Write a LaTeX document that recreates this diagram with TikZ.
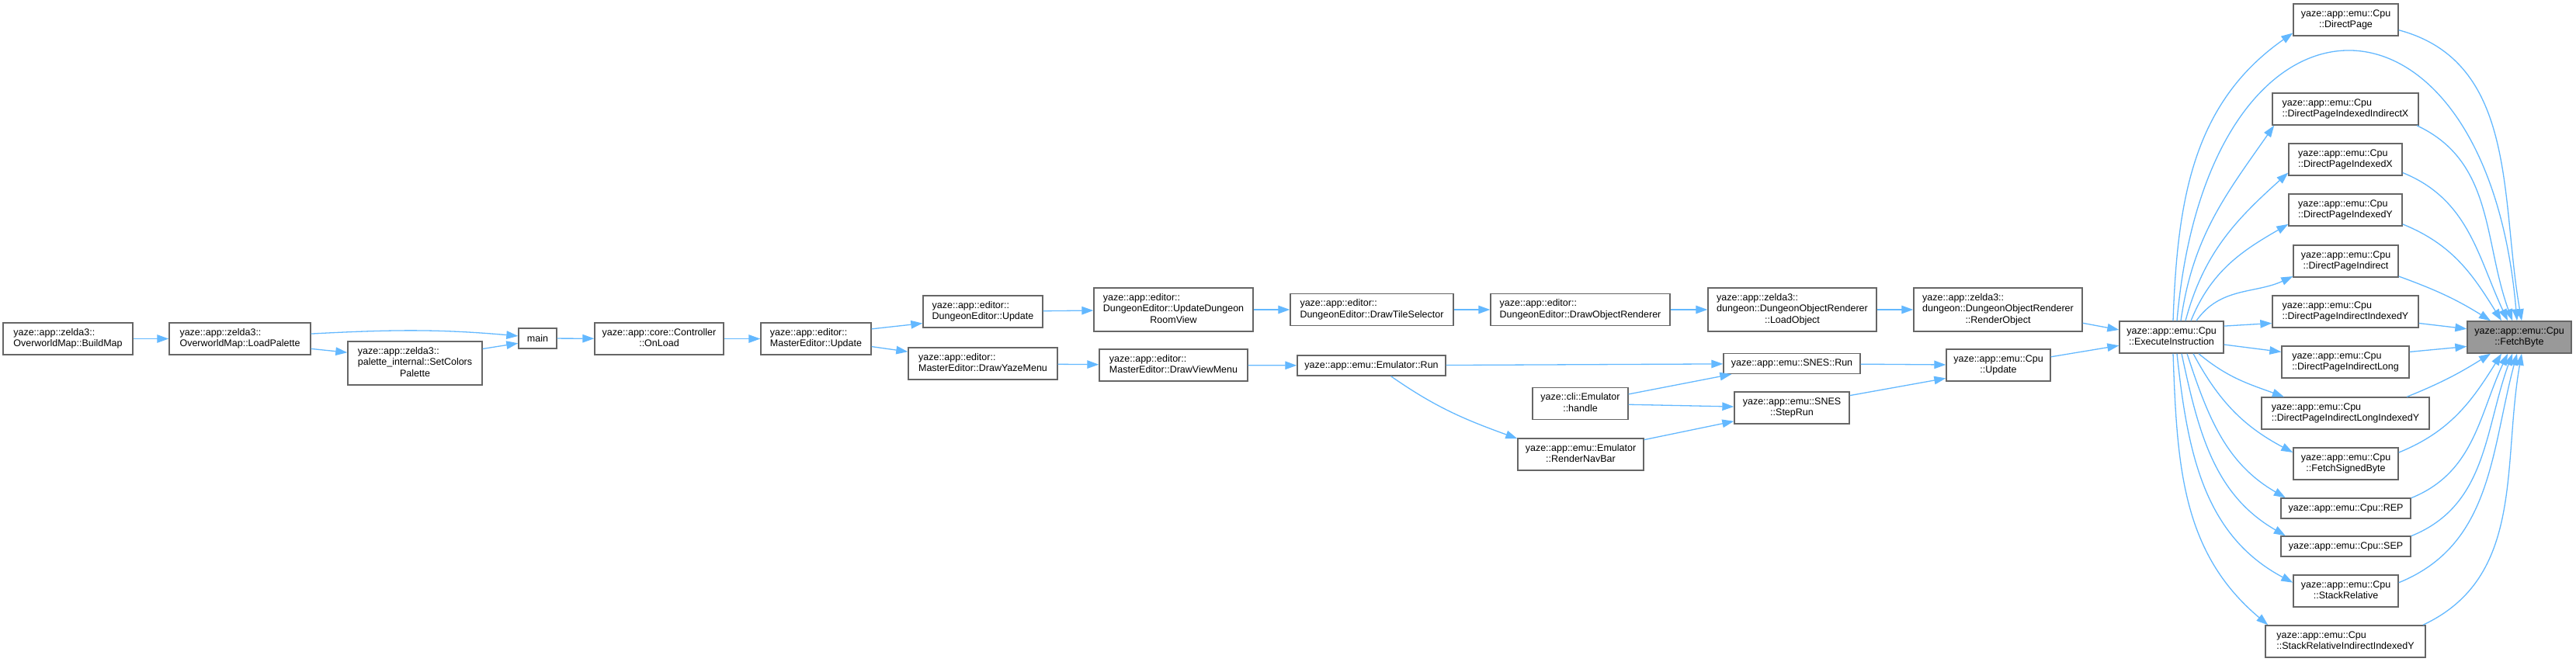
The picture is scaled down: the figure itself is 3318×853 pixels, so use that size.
\documentclass[tikz,border=0pt]{standalone}
\usepackage{fontspec}
\newfontfamily\dotfont{Liberation Sans}
\usetikzlibrary{arrows.meta}
\definecolor{callblue}{HTML}{63B8FF}
\definecolor{fnborder}{HTML}{666666}
\definecolor{fnfill}{HTML}{999999}
% rotulo: linhas de cima alinhadas a esquerda, ultima centrada
\newcommand{\fnlabel}[2]{\begin{tabular}{@{}l@{}}#1\\\multicolumn{1}{@{}c@{}}{#2}\end{tabular}}

\begin{document}
\begin{tikzpicture}[x=1pt, y=1pt,
    fn/.style={draw=fnborder, fill=white, line width=1.4pt, inner xsep=4pt, inner ysep=2pt,
        font=\dotfont\fontsize{12.5}{14.3}\selectfont},
    fnroot/.style={fn, fill=fnfill},
    sz/.style 2 args={minimum width=#1pt, minimum height=#2pt},
    call/.style={callblue, line width=1.3pt, -{Triangle[length=15pt,width=10.5pt]}}]

    \useasboundingbox (0,0) rectangle (3318,-853);

    % 1. Cadeia da esquerda (main e editores)
    \node[fn, sz={167}{41}] (buildmap) at (87.5,-436.5) {\fnlabel{yaze::app::zelda3::}{OverworldMap::BuildMap}};
    \node[fn, sz={182}{41}] (loadpal) at (309,-436.5) {\fnlabel{yaze::app::zelda3::}{OverworldMap::LoadPalette}};
    \node[fn, sz={173}{56}] (setcol) at (534.5,-468) {\fnlabel{yaze::app::zelda3::\\palette\_internal::SetColors}{Palette}};
    \node[fn, sz={49}{26}] (main) at (692.5,-436) {main};
    \node[fn, sz={166}{41}] (onload) at (849,-436.5) {\fnlabel{yaze::app::core::Controller}{::OnLoad}};
    \node[fn, sz={142}{41}] (meupdate) at (1051,-436.5) {\fnlabel{yaze::app::editor::}{MasterEditor::Update}};
    \node[fn, sz={154}{41}] (deupdate) at (1266,-401.5) {\fnlabel{yaze::app::editor::}{DungeonEditor::Update}};
    \node[fn, sz={192}{41}] (yazemenu) at (1266,-468.5) {\fnlabel{yaze::app::editor::}{MasterEditor::DrawYazeMenu}};
    \node[fn, sz={205}{56}] (roomview) at (1511.5,-399) {\fnlabel{yaze::app::editor::\\DungeonEditor::UpdateDungeon}{RoomView}};
    \node[fn, sz={191}{41}] (viewmenu) at (1511.5,-470.5) {\fnlabel{yaze::app::editor::}{MasterEditor::DrawViewMenu}};
    \node[fn, sz={210}{41}] (tilesel) at (1767,-399) {\fnlabel{yaze::app::editor::}{DungeonEditor::DrawTileSelector}};
    \node[fn, sz={191}{26}] (emurun) at (1766.5,-471) {yaze::app::emu::Emulator::Run};
    \node[fn, sz={231}{41}] (objrend) at (2035.5,-399) {\fnlabel{yaze::app::editor::}{DungeonEditor::DrawObjectRenderer}};
    \node[fn, sz={123}{41}] (handle) at (2035.5,-520) {\fnlabel{yaze::cli::Emulator}{::handle}};
    \node[fn, sz={162}{41}] (navbar) at (2036,-585.5) {\fnlabel{yaze::app::emu::Emulator}{::RenderNavBar}};
    \node[fn, sz={217}{56}] (loadobj) at (2308.5,-399) {\fnlabel{yaze::app::zelda3::\\dungeon::DungeonObjectRenderer}{::LoadObject}};
    \node[fn, sz={176}{26}] (snesrun) at (2308,-468.5) {yaze::app::emu::SNES::Run};
    \node[fn, sz={148}{41}] (steprun) at (2308,-525.5) {\fnlabel{yaze::app::emu::SNES}{::StepRun}};
    \node[fn, sz={217}{56}] (renderobj) at (2573.5,-399) {\fnlabel{yaze::app::zelda3::\\dungeon::DungeonObjectRenderer}{::RenderObject}};
    \node[fn, sz={134}{41}] (cpuupdate) at (2574,-470.5) {\fnlabel{yaze::app::emu::Cpu}{::Update}};
    \node[fn, sz={134}{41}] (exec) at (2797,-434.5) {\fnlabel{yaze::app::emu::Cpu}{::ExecuteInstruction}};

    % 2. Coluna dos modos de enderecamento
    \node[fn, sz={135}{41}] (dp) at (3021.5,-25.5) {\fnlabel{yaze::app::emu::Cpu}{::DirectPage}};
    \node[fn, sz={188}{41}] (dpiix) at (3021,-140.5) {\fnlabel{yaze::app::emu::Cpu}{::DirectPageIndexedIndirectX}};
    \node[fn, sz={146}{41}] (dpix) at (3021,-205.5) {\fnlabel{yaze::app::emu::Cpu}{::DirectPageIndexedX}};
    \node[fn, sz={146}{41}] (dpiy) at (3021,-270.5) {\fnlabel{yaze::app::emu::Cpu}{::DirectPageIndexedY}};
    \node[fn, sz={135}{41}] (dpind) at (3021.5,-336.5) {\fnlabel{yaze::app::emu::Cpu}{::DirectPageIndirect}};
    \node[fn, sz={188}{41}] (dpindy) at (3021,-401.5) {\fnlabel{yaze::app::emu::Cpu}{::DirectPageIndirectIndexedY}};
    \node[fn, sz={164}{41}] (dpindl) at (3021,-466.5) {\fnlabel{yaze::app::emu::Cpu}{::DirectPageIndirectLong}};
    \node[fn, sz={216}{41}] (dpindly) at (3021,-532.5) {\fnlabel{yaze::app::emu::Cpu}{::DirectPageIndirectLongIndexedY}};
    \node[fn, sz={135}{41}] (fsb) at (3021.5,-597.5) {\fnlabel{yaze::app::emu::Cpu}{::FetchSignedByte}};
    \node[fn, sz={167}{26}] (rep) at (3021.5,-655) {yaze::app::emu::Cpu::REP};
    \node[fn, sz={167}{26}] (sep) at (3021.5,-704) {yaze::app::emu::Cpu::SEP};
    \node[fn, sz={135}{41}] (sr) at (3021.5,-761.5) {\fnlabel{yaze::app::emu::Cpu}{::StackRelative}};
    \node[fn, sz={206}{41}] (sriiy) at (3021,-826.5) {\fnlabel{yaze::app::emu::Cpu}{::StackRelativeIndirectIndexedY}};

    \node[fnroot, sz={134}{41}] (fetch) at (3245,-434.5) {\fnlabel{yaze::app::emu::Cpu}{::FetchByte}};

    % 3. Chamadas da cadeia da esquerda
    \draw[call] (buildmap) -- (loadpal);
    \draw[call] (loadpal.4) to[out=3, in=175] (main.173);
    \draw[call] (loadpal.352) -- (setcol.171);
    \draw[call] (setcol.12) -- (main.194);
    \draw[call] (main) -- (onload);
    \draw[call] (onload) -- (meupdate);
    \draw[call] (meupdate.10) -- (deupdate.191);
    \draw[call] (meupdate.352) -- (yazemenu.171);
    \draw[call] (deupdate) -- (roomview);
    \draw[call] (yazemenu) -- (viewmenu);
    \draw[call] (roomview) -- (tilesel);
    \draw[call] (viewmenu) -- (emurun);
    \draw[call] (tilesel) -- (objrend);
    \draw[call] (objrend) -- (loadobj);
    \draw[call] (loadobj) -- (renderobj);
    \draw[call] (emurun) -- (snesrun);
    \draw[call] ([xshift=25pt]emurun.south) to[out=-35, in=160] (navbar.166);
    \draw[call] (handle.11) -- (snesrun.190);
    \draw[call] (handle) -- (steprun);
    \draw[call] (navbar.13) -- (steprun.193);
    \draw[call] (snesrun) -- (cpuupdate);
    \draw[call] (steprun.12) -- (cpuupdate.194);
    \draw[call] (renderobj.351) -- (exec.172);
    \draw[call] (cpuupdate.9) -- (exec.189);

    % 4. Leque de ExecuteInstruction para a coluna
    \foreach \n/\dx/\o/\i/\a in {dp/2/88/215/194, dpiix/12/82/235/193, dpix/18/75/222/193,
        dpiy/25/68/210/194, dpind/32/55/205/196}
        \draw[call] ([xshift=\dx pt]exec.north) to[out=\o, in=\i] (\n.\a);
    \draw[call] (exec.12) -- (dpindy.189);
    \draw[call] (exec.352) -- (dpindl.171);
    \foreach \n/\dx/\o/\i/\a in {dpindly/35/-40/160/165, fsb/28/-62/152/168, rep/20/-72/150/170,
        sep/13/-78/150/170, sr/7/-84/152/171, sriiy/2/-88/140/168}
        \draw[call] ([xshift=\dx pt]exec.south) to[out=\o, in=\i] (\n.\a);

    % arco direto por cima de tudo
    \draw[call] ([xshift=7pt]exec.north) .. controls +(40,462) and +(-40,462) .. ([xshift=-3pt]fetch.north);

    % 5. Da coluna para FetchByte
    \foreach \n/\a/\dx/\o/\i in {dp/349/3/-15/100, dpiix/347/-9/-25/110, dpix/347/-15/-22/115,
        dpiy/346/-23/-22/122, dpind/344/-37/-20/148}
        \draw[call] (\n.\a) to[out=\o, in=\i] ([xshift=\dx pt]fetch.north);
    \draw[call] (dpindy.351) -- (fetch.171);
    \draw[call] (dpindl.9) -- (fetch.190);
    \foreach \n/\a/\dx/\o/\i in {dpindly/15/-37/22/-148, fsb/12/-23/22/-122, rep/9/-15/22/-115,
        sep/9/-9/22/-110, sr/9/-3/22/-105, sriiy/12/3/25/-100}
        \draw[call] (\n.\a) to[out=\o, in=\i] ([xshift=\dx pt]fetch.south);

\end{tikzpicture}
\end{document}
